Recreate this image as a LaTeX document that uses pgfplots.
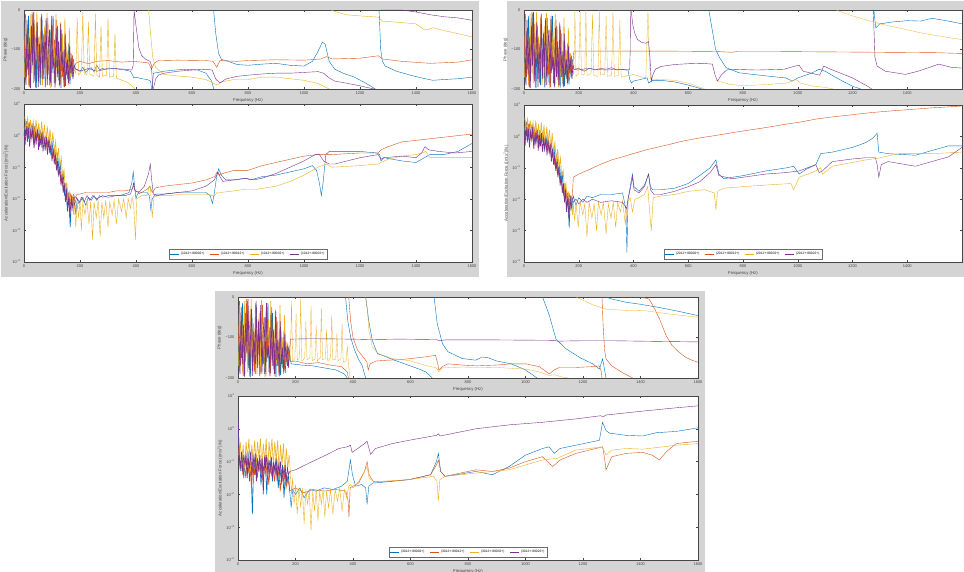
\documentclass[border=0pt]{standalone}
\usepackage{fontspec}
\setmainfont{Liberation Sans}
\usepackage{pgfplots}
\usepackage{pgfplotstable}
\pgfplotsset{compat=1.18}
\definecolor{mb}{rgb}{0,0.447,0.741}
\definecolor{mo}{rgb}{0.85,0.325,0.098}
\definecolor{my}{rgb}{0.929,0.694,0.125}
\definecolor{mp}{rgb}{0.494,0.184,0.556}
\definecolor{figbg}{RGB}{212,212,212}
\definecolor{axc}{RGB}{70,70,70}
\newcommand\lgimg[1]{\addlegendimage{legend image code/.code={\draw[draw=#1, line width=0.5pt] (0pt,0pt) -- (9pt,0pt);}}}

% ---------- phase noise (0-180 Hz), shared by the three figures ----------
\pgfplotstableread{
x y
0 -30
4 -185
8 -60
12 -150
16 -15
20 -195
24 -90
28 -135
32 -10
36 -175
40 -70
44 -198
48 -40
52 -160
56 -105
60 -190
64 -25
68 -150
72 -80
76 -196
80 -35
84 -170
88 -115
92 -190
96 -50
100 -160
104 -15
108 -185
112 -95
116 -145
120 -40
124 -178
128 -120
132 -197
136 -60
140 -165
144 -100
148 -192
152 -130
156 -175
160 -85
164 -188
168 -140
172 -170
176 -125
}\PNb
\pgfplotstableread{
x y
1 -120
5 -10
9 -170
13 -45
17 -190
21 -80
25 -140
29 -5
33 -160
37 -100
41 -196
45 -30
49 -150
53 -70
57 -185
61 -20
65 -130
69 -175
73 -55
77 -190
81 -90
85 -20
89 -165
93 -110
97 -195
101 -40
105 -140
109 -75
113 -188
117 -25
121 -160
125 -95
129 -190
133 -50
137 -170
141 -120
145 -196
149 -80
153 -150
157 -110
161 -180
165 -130
169 -160
173 -115
177 -150
}\PNo
\pgfplotstableread{
x y
2 -170
6 -20
10 -140
14 -60
18 -195
22 -10
26 -160
30 -90
34 -185
38 -35
42 -130
46 -5
50 -175
54 -65
58 -150
62 -15
66 -190
70 -100
74 -40
78 -170
82 -8
86 -145
90 -75
94 -198
98 -25
102 -120
106 -55
110 -180
114 -10
118 -155
122 -85
126 -195
130 -30
134 -165
138 -60
142 -185
146 -20
150 -150
154 -100
158 -190
162 -45
166 -170
170 -110
174 -160
178 -150
}\PNy
\pgfplotstableread{
x y
3 -90
7 -190
11 -25
15 -165
19 -70
23 -198
27 -40
31 -140
35 -5
39 -180
43 -110
47 -30
51 -195
55 -85
59 -160
63 -10
67 -175
71 -60
75 -145
79 -20
83 -190
87 -95
91 -50
95 -185
99 -15
103 -150
107 -120
111 -196
115 -45
119 -170
123 -80
127 -190
131 -35
135 -155
139 -105
143 -194
147 -60
151 -165
155 -125
159 -185
163 -90
167 -160
171 -120
175 -175
179 -140
}\PNp

% ---------- magnitude noise, figures 1 and 2 ----------
\pgfplotstableread{
x y
0 2.0
5 1.12
10 2.82
15 0.794
20 2.24
25 1.0
30 2.0
35 0.501
40 1.58
45 0.794
50 1.41
55 0.447
60 1.26
65 0.631
70 1.12
75 0.398
80 1.0
85 0.501
90 0.794
95 0.282
100 0.631
105 0.251
110 0.398
115 0.126
120 0.251
125 0.0794
130 0.126
135 0.0316
140 0.0631
145 0.0126
150 0.0316
155 0.00398
160 0.0158
165 0.00126
170 0.0126
175 0.00501
}\MAb
\pgfplotstableread{
x y
2 1.58
7 2.82
12 1.0
17 2.51
22 0.794
27 2.0
32 0.891
37 1.78
42 0.631
47 1.58
52 0.794
57 1.41
62 0.501
67 1.26
72 0.631
77 0.891
82 0.398
87 0.794
92 0.316
97 0.501
102 0.2
107 0.316
112 0.126
117 0.158
122 0.0631
127 0.0794
132 0.0316
137 0.0398
142 0.0178
147 0.0251
152 0.01
157 0.0158
162 0.00794
167 0.0141
172 0.01
177 0.0141
}\MAo
\pgfplotstableread{
x y
3 3.98
8 1.58
13 3.55
18 1.0
23 3.16
28 1.26
33 2.82
38 0.794
43 3.16
48 1.0
53 2.51
58 0.631
63 2.82
68 0.794
73 2.24
78 0.501
83 2.0
88 0.631
93 1.58
98 0.398
103 1.26
108 0.316
113 0.631
118 0.158
123 0.398
128 0.1
133 0.2
138 0.0501
143 0.0794
148 0.02
153 0.0316
158 0.01
163 0.0158
168 0.00501
173 0.01
178 0.00316
}\MAy
\pgfplotstableread{
x y
0 1.26
4 0.501
8 2.0
12 0.631
16 1.78
20 0.447
24 1.41
28 0.794
32 2.0
36 0.398
40 1.26
44 0.631
48 1.58
52 0.355
56 1.12
60 0.501
64 1.26
68 0.316
72 0.794
76 0.398
80 0.891
84 0.251
88 0.631
92 0.316
96 0.501
100 0.158
104 0.398
108 0.126
112 0.251
116 0.0794
120 0.158
124 0.0501
128 0.1
132 0.0316
136 0.0501
140 0.0158
144 0.0316
148 0.00794
152 0.02
156 0.00398
160 0.0126
164 0.00251
168 0.01
172 0.00501
176 0.0112
}\MAp

% ---------- magnitude noise, figure 3 ----------
\pgfplotstableread{
x y
0 2.0
5 0.126
10 0.0501
15 0.158
20 0.0316
25 0.126
30 0.0631
35 0.2
40 0.0251
45 0.1
50 0.00251
55 0.126
60 0.0398
65 0.158
70 0.0501
75 0.126
80 0.02
85 0.1
90 0.0501
95 0.158
100 0.01
105 0.1
110 0.0398
115 0.126
120 0.0251
125 0.0794
130 0.0501
135 0.126
140 0.0158
145 0.0631
150 0.0316
155 0.0794
160 0.00794
165 0.0501
170 0.02
175 0.0398
180 0.0126
}\MCb
\pgfplotstableread{
x y
2 0.251
7 0.0631
12 0.126
17 0.0398
22 0.1
27 0.0316
32 0.126
37 0.0501
42 0.0794
47 0.0158
52 0.1
57 0.0398
62 0.126
67 0.0316
72 0.0794
77 0.0501
82 0.1
87 0.0251
92 0.0794
97 0.0398
102 0.1
107 0.02
112 0.0631
117 0.0398
122 0.0794
127 0.0251
132 0.0631
137 0.0316
142 0.0501
147 0.0126
152 0.0501
157 0.0251
162 0.0398
167 0.0158
172 0.0316
177 0.02
}\MCo
\pgfplotstableread{
x y
3 0.158
8 0.398
13 0.0794
18 0.316
23 0.0631
28 0.398
33 0.126
38 0.501
43 0.0501
48 0.316
53 0.1
58 0.447
63 0.0794
68 0.398
73 0.126
78 0.501
83 0.0631
88 0.355
93 0.1
98 0.501
103 0.0398
108 0.398
113 0.126
118 0.501
123 0.0794
128 0.398
133 0.1
138 0.447
143 0.0501
148 0.316
153 0.0794
158 0.355
163 0.0398
168 0.251
173 0.0631
178 0.158
}\MCy
\pgfplotstableread{
x y
0 3.16
4 0.158
8 0.0631
12 0.2
16 0.0501
20 0.158
24 0.0794
28 0.178
32 0.0316
36 0.126
40 0.0631
44 0.2
48 0.0398
52 0.141
56 0.0794
60 0.178
64 0.0251
68 0.126
72 0.0631
76 0.158
80 0.0447
84 0.126
88 0.01
92 0.141
96 0.0631
100 0.158
104 0.0398
108 0.112
112 0.0562
116 0.141
120 0.0316
124 0.1
128 0.0501
132 0.126
136 0.0251
140 0.0794
144 0.0447
148 0.1
152 0.02
156 0.0708
160 0.0355
164 0.0794
168 0.0251
172 0.0631
176 0.0398
}\MCp

\pgfplotsset{
  nz/.style={forget plot, line width=0.65pt},
  sm/.style={forget plot},
  baseax/.style={
    scale only axis, xmin=0, xmax=1600, xtick={0,200,...,1600},
    tick align=inside, major tick length=2pt,
    axis line style={axc, line width=0.4pt},
    tick style={axc, line width=0.3pt},
    ticklabel style={font=\fontsize{4}{4.5}\selectfont, text=axc},
    label style={font=\fontsize{4.3}{5}\selectfont, text=axc},
    xticklabel style={yshift=1pt},
    xlabel={Frequency (Hz)}, xlabel style={yshift=3pt},
    ylabel style={yshift=-3pt},
    /pgf/number format/assume math mode=true,
    /pgf/number format/1000 sep={},
    axis background/.style={fill=white},
    unbounded coords=jump, clip=true,
    every axis plot/.append style={line width=0.4pt},
  },
  phax/.style={baseax, ymin=-200, ymax=0, ytick={-200,-100,0},
    yticklabels={−200,−100,0}, ylabel={Phase (deg)}},
  mgax/.style={baseax, ymin=1e-4, ymax=10,
    ytick={1e-4,1e-3,1e-2,1e-1,1,10}, yminorticks=false,
    yticklabels={10\textsuperscript{−4},10\textsuperscript{−3},10\textsuperscript{−2},10\textsuperscript{−1},10\textsuperscript{0},10\textsuperscript{1}},
    ylabel={Acceleration/Excitation Force ((m/s\textsuperscript{2})/N)},
    legend columns=4,
    legend style={at={(0.5,0)}, anchor=south, yshift=2pt,
      font=\fontsize{3.3}{4}\selectfont, draw=axc!80,
      fill=white, inner sep=0.8pt, row sep=0pt,
      /tikz/every even column/.append style={column sep=3pt}},
  },
}

\begin{document}
\begin{tikzpicture}[x=1pt,y=1pt]
\fill[white] (0,0) rectangle (964,-572);
\fill[figbg] (1,-1) rectangle (479,-277);
\fill[figbg] (507,-1) rectangle (964,-277);
\fill[figbg] (215,-291) rectangle (705,-572);

% ================= FIGURE 1 : phase =================
\begin{axis}[phax, at={(24pt,-10pt)}, anchor=north west, width=448pt, height=79pt]
\addplot[draw=mb, nz] table {\PNb};
\addplot[draw=mb] coordinates {(176,-125)(182,-150)(190,-150)(200,-155)(210,-145)(220,-158)(230,-150)(240,-146)(250,-156)(260,-140)(270,-152)(280,-148)(290,-150)(300,-147)(320,-148)(340,-150)(360,-152)(380,-155)(388,-165)(392,-172)(400,-170)(420,-174)(440,-176)(452,-180)(456,-200)(457,nan)(458,-200)(462,-160)(480,-158)(500,-155)(540,-152)(580,-150)(620,-152)(650,-160)(670,-180)(678,-200)(679,nan)(677,0)(685,-60)(695,-110)(705,-125)(730,-130)(760,-138)(800,-140)(850,-137)(900,-135)(950,-140)(1000,-142)(1030,-130)(1050,-105)(1065,-82)(1075,-85)(1090,-130)(1110,-150)(1140,-160)(1180,-170)(1220,-185)(1255,-200)(1260,nan)(1268,0)(1274,-100)(1280,-130)(1290,-142)(1330,-155)(1380,-165)(1420,-172)(1460,-178)(1500,-176)(1550,-174)(1600,-170)};
\addplot[draw=mo, nz] table {\PNo};
\addplot[draw=mo] coordinates {(177,-150)(185,-135)(200,-130)(230,-136)(260,-130)(300,-128)(350,-132)(390,-130)(420,-132)(445,-134)(455,-150)(465,-135)(480,-128)(550,-127)(650,-128)(675,-130)(688,-145)(700,-128)(760,-130)(800,-128)(900,-126)(1000,-127)(1060,-124)(1080,-118)(1100,-124)(1200,-122)(1265,-116)(1280,-124)(1350,-130)(1450,-135)(1550,-132)(1600,-126)};
\addplot[draw=my, nz] table {\PNy};
\addplot[draw=my] coordinates {(178,-150)(185,-160)(190,-20)(195,-165)(205,-155)(210,-5)(215,-160)(225,-165)(230,-30)(235,-162)(250,-168)(255,-10)(260,-165)(270,-170)(275,-40)(280,-168)(295,-165)(300,-20)(305,-170)(320,-168)(325,-60)(330,-172)(350,-178)(370,-183)(385,-192)(395,-200)(400,nan)(445,0)(452,-60)(460,-120)(470,-145)(485,-155)(500,-163)(550,-167)(600,-170)(650,-176)(675,-185)(690,-190)(705,-182)(750,-176)(800,-176)(850,-170)(900,-170)(950,-174)(1000,-178)(1050,-186)(1090,-200)(1092,nan)(1095,0)(1150,-12)(1200,-15)(1265,-18)(1280,-28)(1350,-32)(1400,-35)(1425,-48)(1440,-50)(1460,-45)(1500,-52)(1550,-60)(1600,-68)};
\addplot[draw=mp, nz] table {\PNp};
\addplot[draw=mp] coordinates {(179,-140)(185,-150)(200,-155)(230,-148)(260,-155)(290,-150)(320,-148)(360,-150)(385,-152)(390,-140)(393,0)(394,nan)(393,0)(400,-40)(410,-95)(420,-115)(435,-125)(450,-130)(455,-140)(460,-200)(461,nan)(462,-200)(470,-175)(480,-165)(500,-160)(550,-155)(600,-152)(650,-150)(672,-152)(685,-175)(700,-185)(720,-175)(760,-168)(800,-165)(850,-162)(900,-160)(950,-160)(1000,-158)(1050,-156)(1070,-160)(1090,-172)(1110,-180)(1150,-185)(1200,-192)(1250,-200)(1260,nan)(1275,0)(1350,0)(1400,-5)(1450,-12)(1500,-17)(1550,-20)(1600,-26)};
\end{axis}

% ================= FIGURE 1 : magnitude =================
\begin{axis}[ymode=log, mgax, at={(24pt,-104pt)}, anchor=north west, width=448pt, height=158pt, legend style={yshift=1pt}]
\addplot[draw=mb, nz] table {\MAb};
\addplot[draw=mb, sm] coordinates {(175,5.01e-3)(180,1.12e-2)(185,3.16e-3)(190,1e-2)(200,7.94e-3)(210,1.12e-2)(220,6.31e-3)(230,1.12e-2)(240,8.91e-3)(250,1.26e-2)(260,8.91e-3)(270,1.26e-2)(280,1.12e-2)(300,1.26e-2)(320,1.26e-2)(340,1.26e-2)(360,1.41e-2)(375,1.58e-2)(385,3.16e-2)(390,7.08e-2)(395,2.51e-2)(400,1e-2)(405,1.41e-2)(420,1.58e-2)(440,1.58e-2)(448,1.26e-2)(453,4.47e-3)(458,1e-2)(470,1.41e-2)(500,1.41e-2)(550,1.58e-2)(600,1.58e-2)(650,1.58e-2)(665,1.26e-2)(673,7.08e-3)(680,1.58e-2)(688,5.01e-2)(695,8.91e-2)(705,5.62e-2)(720,3.98e-2)(760,3.98e-2)(790,4.47e-2)(810,3.98e-2)(850,5.01e-2)(900,5.62e-2)(950,7.08e-2)(1000,8.91e-2)(1030,0.112)(1045,7.94e-2)(1055,3.16e-2)(1062,1.26e-2)(1068,3.16e-2)(1078,0.251)(1090,0.316)(1150,0.316)(1200,0.316)(1260,0.282)(1270,0.251)(1275,0.158)(1285,0.2)(1350,0.158)(1400,0.141)(1430,0.2)(1450,0.251)(1500,0.251)(1550,0.316)(1600,0.562)};
\addplot[draw=mo, nz] table {\MAo};
\addplot[draw=mo, sm] coordinates {(177,1.41e-2)(180,1e-2)(190,1.41e-2)(200,1.41e-2)(220,1.58e-2)(250,1.58e-2)(280,1.58e-2)(300,1.58e-2)(330,1.78e-2)(360,1.78e-2)(385,2e-2)(392,2.51e-2)(398,1.78e-2)(420,1.58e-2)(440,2e-2)(450,2.51e-2)(458,1.58e-2)(470,2.24e-2)(500,2.51e-2)(550,2.82e-2)(600,3.16e-2)(650,3.98e-2)(680,5.01e-2)(690,7.08e-2)(697,5.62e-2)(710,6.31e-2)(750,7.94e-2)(800,7.94e-2)(850,0.112)(900,0.141)(950,0.178)(1000,0.224)(1050,0.251)(1100,0.251)(1200,0.282)(1265,0.282)(1275,0.355)(1300,0.447)(1350,0.631)(1400,0.708)(1450,0.794)(1500,0.891)(1550,1.0)(1600,1.12)};
\addplot[draw=my, nz] table {\MAy};
\addplot[draw=my, sm] coordinates {(178,3.16e-3)(180,1e-2)(185,1.26e-3)(190,7.94e-3)(195,2.51e-3)(200,8.91e-3)(205,1e-3)(210,7.94e-3)(218,3.16e-3)(225,8.91e-3)(232,1.58e-3)(238,7.94e-3)(245,5.01e-4)(250,7.94e-3)(258,2.51e-3)(265,8.91e-3)(272,6.31e-4)(278,7.94e-3)(285,2.51e-3)(292,8.91e-3)(300,1.26e-3)(306,7.94e-3)(315,3.16e-3)(322,8.91e-3)(330,1.58e-3)(338,1e-2)(348,3.98e-3)(356,1e-2)(365,2.51e-3)(372,1e-2)(380,5.01e-3)(386,1.12e-2)(392,6.31e-3)(398,5.01e-4)(403,1e-2)(420,1.26e-2)(440,1.26e-2)(447,2.51e-2)(452,2e-2)(458,2.51e-3)(464,1.12e-2)(480,1.26e-2)(520,1.26e-2)(560,1.41e-2)(600,1.41e-2)(650,1.41e-2)(680,1.26e-2)(690,1.58e-2)(700,1.58e-2)(750,1.78e-2)(790,2e-2)(830,2e-2)(900,2.51e-2)(950,3.55e-2)(1000,5.62e-2)(1050,0.1)(1080,0.126)(1100,0.1)(1200,0.112)(1265,0.126)(1275,0.141)(1300,0.178)(1350,0.224)(1400,0.251)(1420,0.282)(1435,0.316)(1450,0.2)(1500,0.2)(1550,0.2)(1600,0.2)};
\addplot[draw=mp, nz] table {\MAp};
\addplot[draw=mp, sm] coordinates {(176,1.12e-2)(180,6.31e-3)(188,1.12e-2)(196,7.08e-3)(205,1.12e-2)(215,7.94e-3)(225,1.26e-2)(235,8.91e-3)(245,1.26e-2)(260,1e-2)(280,1.26e-2)(300,1.12e-2)(330,1.26e-2)(360,1.26e-2)(380,1.41e-2)(388,2.24e-2)(391,3.16e-2)(396,1.78e-2)(410,1.58e-2)(430,2.51e-2)(445,6.31e-2)(451,0.126)(456,3.98e-2)(462,1.41e-2)(475,1.26e-2)(500,1.41e-2)(550,1.58e-2)(600,1.78e-2)(650,2.51e-2)(680,3.98e-2)(693,7.08e-2)(700,5.01e-2)(710,3.55e-2)(750,3.98e-2)(790,4.47e-2)(820,3.98e-2)(850,4.47e-2)(900,6.31e-2)(950,0.1)(1000,0.158)(1040,0.251)(1055,0.251)(1070,0.158)(1090,0.126)(1110,0.126)(1200,0.2)(1265,0.251)(1275,0.178)(1285,0.2)(1350,0.224)(1400,0.2)(1420,0.282)(1432,0.447)(1445,0.355)(1480,0.316)(1540,0.282)(1600,0.316)};
\lgimg{mb}\addlegendentry{(1012+:80002+)}
\lgimg{mo}\addlegendentry{(1012+:80012+)}
\lgimg{my}\addlegendentry{(1012+:80032+)}
\lgimg{mp}\addlegendentry{(1012+:80022+)}
\end{axis}

% ================= FIGURE 2 : phase =================
\begin{axis}[phax, at={(524pt,-10pt)}, anchor=north west, width=438pt, height=79pt,
  xtick={0,200,...,1400}, extra x ticks={1600}, extra x tick labels={}]
\addplot[draw=mb, nz] table {\PNb};
\addplot[draw=mb] coordinates {(176,-125)(182,-150)(200,-152)(230,-148)(260,-150)(300,-152)(340,-150)(380,-152)(386,-175)(392,-185)(400,-180)(450,-172)(455,-185)(470,-178)(500,-178)(550,-182)(600,-190)(640,-198)(650,-200)(660,nan)(675,0)(690,-60)(700,-100)(714,-120)(738,-146)(786,-159)(835,-163)(900,-168)(956,-172)(980,-180)(1000,-172)(1050,-160)(1078,-150)(1100,-155)(1150,-175)(1200,-193)(1230,-200)(1240,nan)(1278,0)(1285,-45)(1300,-35)(1350,-30)(1400,-27)(1450,-28)(1490,-21)(1550,-28)(1600,-35)};
\addplot[draw=mo, nz] table {\PNo};
\addplot[draw=mo] coordinates {(177,-150)(182,-104)(300,-104)(500,-104)(700,-105)(760,-107)(780,-105)(900,-105)(1100,-106)(1300,-107)(1500,-108)(1600,-110)};
\addplot[draw=my, nz] table {\PNy};
\addplot[draw=my, line width=0.3pt] coordinates {(178,-150)(182,-165)(186,0)(190,-168)(200,-160)(205,-5)(210,-165)(222,-162)(226,0)(230,-166)(245,-160)(250,-10)(255,-165)(270,-168)(275,0)(280,-165)(295,-163)(300,-15)(305,-168)(320,-165)(325,0)(330,-168)(345,-166)(350,-25)(355,-170)(370,-168)(380,-165)(390,-165)(400,-163)(430,-170)(445,-172)(450,-60)(453,0)(456,-100)(462,-175)(500,-176)(550,-178)(600,-185)(640,-195)(660,-200)(665,nan)(700,-178)(750,-188)(800,-192)(850,-190)(900,-188)(960,-185)(993,-176)(1010,-185)(1050,-192)(1100,-196)(1130,-200)(1135,nan)(1140,0)(1200,-15)(1300,-35)(1400,-50)(1450,-58)(1500,-64)(1600,-75)};
\addplot[draw=mp, nz] table {\PNp};
\addplot[draw=mp] coordinates {(179,-140)(182,-150)(200,-148)(220,-155)(240,-147)(260,-152)(280,-148)(300,-150)(320,-146)(340,-152)(360,-150)(380,-152)(386,-150)(388,-100)(389,0)(390,nan)(391,0)(398,-40)(405,-60)(415,-75)(430,-82)(445,-84)(455,-80)(460,-120)(465,-180)(470,-165)(480,-150)(500,-143)(550,-138)(600,-136)(650,-135)(688,-137)(698,-165)(707,-180)(720,-165)(740,-152)(760,-150)(850,-152)(950,-150)(990,-142)(1005,-140)(1020,-155)(1080,-165)(1095,-142)(1120,-150)(1200,-172)(1260,-195)(1270,-200)(1272,nan)(1276,0)(1282,-120)(1290,-142)(1320,-155)(1393,-163)(1440,-155)(1515,-137)(1560,-145)(1600,-147)};
\end{axis}

% ================= FIGURE 2 : magnitude =================
\begin{axis}[ymode=log, mgax, at={(524pt,-105pt)}, anchor=north west, width=438pt, height=157pt,
  xtick={0,200,...,1400}, extra x ticks={1600}, extra x tick labels={}, legend style={yshift=1pt}]
\addplot[draw=mb, nz] table {\MAb};
\addplot[draw=mb, sm] coordinates {(175,5.01e-3)(180,1.26e-2)(190,6.31e-3)(200,1.12e-2)(215,7.94e-3)(230,1.26e-2)(250,1.12e-2)(280,1.41e-2)(320,1.41e-2)(360,1.58e-2)(372,5.01e-3)(376,2e-4)(380,1e-2)(388,2.51e-2)(396,6.31e-2)(402,2.51e-2)(420,1.78e-2)(440,2.82e-2)(455,6.31e-2)(462,2.51e-2)(470,2e-2)(500,2e-2)(550,2.24e-2)(600,3.16e-2)(641,5.62e-2)(680,0.1)(701,0.178)(712,6.31e-2)(730,4.47e-2)(762,5.01e-2)(800,5.62e-2)(883,7.94e-2)(960,0.1)(985,0.112)(1005,6.31e-2)(1030,8.91e-2)(1066,0.126)(1084,0.282)(1126,0.316)(1200,0.447)(1248,0.631)(1275,0.891)(1290,1.26)(1296,0.316)(1330,0.282)(1430,0.251)(1490,0.355)(1551,0.501)(1600,0.501)};
\addplot[draw=mo, nz] table {\MAo};
\addplot[draw=mo, sm] coordinates {(177,1.41e-2)(180,5.01e-2)(200,6.31e-2)(240,8.91e-2)(277,0.126)(320,0.178)(360,0.224)(398,0.282)(450,0.38)(519,0.525)(580,0.708)(641,0.891)(700,1.07)(762,1.32)(820,1.58)(883,1.91)(950,2.4)(1005,2.82)(1066,3.55)(1126,4.17)(1190,4.79)(1248,5.5)(1310,6.17)(1369,6.76)(1430,7.41)(1490,8.13)(1550,8.71)(1600,9.33)};
\addplot[draw=my, nz] table {\MAy};
\addplot[draw=my, sm] coordinates {(178,3.16e-3)(180,7.94e-3)(185,2e-3)(190,7.94e-3)(198,1.26e-3)(205,7.94e-3)(215,3.16e-3)(222,7.08e-3)(230,6.31e-4)(238,7.94e-3)(248,2.51e-3)(256,7.08e-3)(265,1e-3)(272,7.94e-3)(282,3.16e-3)(290,7.94e-3)(300,7.94e-4)(308,7.08e-3)(318,2.51e-3)(326,7.94e-3)(335,1.26e-3)(342,7.94e-3)(352,3.98e-3)(360,8.91e-3)(370,1.58e-3)(378,7.94e-3)(388,1.12e-2)(396,3.98e-3)(405,1e-2)(420,1.12e-2)(440,1.41e-2)(452,2.51e-2)(458,5.01e-3)(465,1e-3)(472,1.12e-2)(500,1.26e-2)(550,1.41e-2)(600,1.78e-2)(660,2e-2)(695,1.58e-2)(701,4.47e-3)(707,1.78e-2)(730,2.24e-2)(800,2.51e-2)(883,2.82e-2)(975,3.16e-2)(985,2e-2)(1005,5.01e-2)(1066,7.94e-2)(1084,0.1)(1090,6.31e-2)(1126,0.112)(1248,0.178)(1290,0.2)(1369,0.282)(1490,0.282)(1600,0.316)};
\addplot[draw=mp, nz] table {\MAp};
\addplot[draw=mp, sm] coordinates {(176,1.12e-2)(180,7.94e-3)(190,1e-2)(200,7.08e-3)(215,1e-2)(230,7.94e-3)(250,1e-2)(280,7.94e-3)(320,8.91e-3)(360,7.94e-3)(375,5.01e-3)(380,1e-2)(390,2.51e-2)(396,5.01e-2)(402,2e-2)(420,1.58e-2)(440,2.51e-2)(455,6.31e-2)(462,2e-2)(475,1.41e-2)(500,1.41e-2)(550,1.78e-2)(600,2.51e-2)(641,3.55e-2)(680,7.08e-2)(701,0.126)(712,5.62e-2)(762,4.47e-2)(800,5.01e-2)(883,6.31e-2)(960,7.08e-2)(1005,7.94e-2)(1066,0.126)(1078,7.08e-2)(1090,7.94e-2)(1126,0.158)(1200,0.191)(1248,0.209)(1284,0.209)(1290,0.126)(1296,5.01e-2)(1305,0.126)(1330,0.158)(1430,0.112)(1490,0.158)(1551,0.224)(1600,0.447)};
\lgimg{mb}\addlegendentry{(2012+:80002+)}
\lgimg{mo}\addlegendentry{(2012+:80012+)}
\lgimg{my}\addlegendentry{(2012+:80032+)}
\lgimg{mp}\addlegendentry{(2012+:80022+)}
\end{axis}

% ================= FIGURE 3 : phase =================
\begin{axis}[phax, at={(238pt,-297pt)}, anchor=north west, width=460pt, height=81pt]
\addplot[draw=mb, nz] table {\PNb};
\addplot[draw=mb] coordinates {(176,-125)(185,-165)(220,-168)(260,-170)(300,-175)(340,-180)(370,-190)(380,-200)(381,nan)(374,0)(382,-60)(392,-100)(405,-130)(420,-155)(432,-169)(438,-185)(444,-200)(445,nan)(444,0)(455,-60)(467,-107)(485,-140)(502,-144)(540,-155)(595,-169)(630,-178)(653,-185)(676,-200)(677,nan)(682,0)(693,-66)(711,-115)(730,-135)(780,-152)(827,-156)(850,-148)(870,-150)(900,-158)(950,-165)(1000,-180)(1040,-200)(1041,nan)(1059,0)(1070,-20)(1083,-46)(1106,-104)(1141,-128)(1190,-150)(1234,-165)(1257,-178)(1268,-153)(1275,-180)(1280,-200)(1281,nan)(1280,0)(1300,-5)(1350,-13)(1400,-18)(1466,-26)(1530,-35)(1600,-46)};
\addplot[draw=mo, nz] table {\PNo};
\addplot[draw=mo] coordinates {(177,-150)(182,-160)(200,-158)(240,-165)(280,-162)(320,-168)(360,-172)(380,-185)(384,-200)(385,nan)(385,0)(392,-60)(400,-100)(415,-130)(435,-148)(448,-160)(453,-180)(460,-165)(480,-158)(520,-156)(560,-155)(600,-152)(650,-148)(687,-144)(695,-165)(699,-181)(710,-172)(730,-165)(780,-168)(830,-170)(900,-168)(950,-165)(1001,-165)(1048,-172)(1083,-190)(1100,-180)(1117,-174)(1176,-174)(1230,-172)(1257,-170)(1264,-185)(1266,-200)(1267,nan)(1266,0)(1270,-70)(1275,-130)(1280,-153)(1300,-170)(1340,-188)(1373,-200)(1374,nan)(1400,0)(1430,-5)(1450,-30)(1466,-54)(1489,-95)(1510,-120)(1535,-137)(1560,-150)(1582,-157)(1600,-161)};
\addplot[draw=my, nz] table {\PNy};
\addplot[draw=my, line width=0.3pt] coordinates {(178,-150)(182,-155)(186,-10)(190,-158)(198,-152)(202,-40)(206,-156)(214,-150)(218,-5)(222,-158)(232,-152)(236,-60)(240,-155)(250,-150)(254,-20)(258,-157)(268,-153)(272,-70)(276,-158)(286,-150)(290,-30)(294,-155)(304,-152)(308,-80)(312,-158)(322,-150)(326,-45)(330,-156)(340,-153)(344,-90)(348,-158)(358,-152)(362,-65)(366,-160)(376,-158)(380,-120)(384,-165)(390,-200)(391,nan)(444,0)(450,-30)(455,-82)(467,-123)(490,-140)(537,-152)(595,-157)(653,-169)(690,-175)(699,-185)(710,-175)(780,-173)(900,-174)(1001,-178)(1048,-185)(1083,-194)(1100,-192)(1130,-198)(1150,-200)(1160,nan)(1176,0)(1230,-18)(1280,-30)(1350,-33)(1419,-34)(1500,-42)(1600,-50)};
\addplot[draw=mp, nz] table {\PNp};
\addplot[draw=mp] coordinates {(179,-140)(182,-104)(250,-103)(400,-104)(460,-105)(560,-104)(690,-105)(700,-108)(720,-106)(900,-106)(1100,-107)(1110,-109)(1200,-108)(1300,-108)(1400,-109)(1500,-110)(1600,-111)};
\end{axis}

% ================= FIGURE 3 : magnitude =================
\begin{axis}[ymode=log, mgax, at={(238pt,-396pt)}, anchor=north west, width=460pt, height=164pt, legend style={yshift=1pt}]
\addplot[draw=mb, nz] table {\MCb};
\addplot[draw=mb, sm] coordinates {(180,1.26e-2)(185,3.98e-3)(190,1.41e-2)(200,1e-2)(215,1.58e-2)(230,7.94e-3)(250,1.41e-2)(270,1.26e-2)(300,1.58e-2)(330,1.41e-2)(360,1.78e-2)(380,2.51e-2)(391,0.112)(398,3.98e-2)(409,1.78e-2)(430,2e-2)(444,1.58e-2)(449,5.01e-3)(455,1.78e-2)(470,2.24e-2)(478,2.24e-2)(595,2.82e-2)(670,3.98e-2)(690,0.1)(697,0.178)(705,5.01e-2)(720,3.55e-2)(760,3.98e-2)(827,5.01e-2)(885,3.98e-2)(943,7.08e-2)(1000,0.158)(1059,0.251)(1082,0.282)(1100,0.178)(1120,0.251)(1175,0.316)(1257,0.447)(1268,1.58)(1280,0.891)(1291,0.741)(1350,0.631)(1408,0.603)(1454,0.759)(1524,0.832)(1600,1.07)};
\addplot[draw=mo, nz] table {\MCo};
\addplot[draw=mo, sm] coordinates {(177,2e-2)(180,1.26e-2)(200,1.58e-2)(230,1.12e-2)(260,1.41e-2)(300,1.26e-2)(340,1.41e-2)(375,1.26e-2)(383,6.31e-3)(386,2e-3)(390,1.58e-2)(420,2.24e-2)(440,5.01e-2)(449,0.1)(456,3.98e-2)(470,2.51e-2)(500,2.4e-2)(595,2.82e-2)(670,3.98e-2)(690,7.94e-2)(697,0.112)(705,5.01e-2)(720,3.55e-2)(827,5.62e-2)(885,5.01e-2)(943,6.31e-2)(1000,0.1)(1059,0.141)(1082,8.91e-2)(1095,7.08e-2)(1120,0.112)(1175,0.178)(1268,0.282)(1275,0.126)(1280,5.62e-2)(1300,0.141)(1350,0.178)(1408,0.191)(1440,0.158)(1466,0.112)(1490,0.2)(1524,0.355)(1600,0.417)};
\addplot[draw=my, nz] table {\MCy};
\addplot[draw=my, sm] coordinates {(178,0.158)(182,5.01e-2)(186,1e-2)(190,3.16e-2)(195,5.01e-3)(200,2e-2)(206,2.51e-3)(212,1.58e-2)(218,3.98e-3)(224,1.58e-2)(230,1.26e-3)(236,1.41e-2)(242,5.01e-3)(248,1.26e-2)(254,7.94e-4)(260,1.26e-2)(266,3.16e-3)(272,1.41e-2)(278,1.58e-3)(284,1.26e-2)(290,5.01e-3)(296,1.41e-2)(302,2e-3)(308,1.26e-2)(315,3.98e-3)(322,1.41e-2)(330,2.51e-3)(338,1.41e-2)(346,6.31e-3)(354,1.58e-2)(362,3.16e-3)(370,1.41e-2)(378,7.94e-3)(385,1.78e-2)(392,2e-2)(400,1.58e-2)(420,2.51e-2)(440,5.01e-2)(449,7.08e-2)(456,3.16e-2)(470,2.51e-2)(500,2.51e-2)(595,2.82e-2)(680,3.55e-2)(692,2.51e-2)(697,6.31e-3)(702,2.82e-2)(720,3.55e-2)(827,4.47e-2)(943,5.62e-2)(1059,0.112)(1110,0.126)(1175,0.224)(1268,0.282)(1280,0.158)(1300,0.224)(1350,0.251)(1408,0.24)(1478,0.282)(1524,0.316)(1600,0.355)};
\addplot[draw=mp, nz] table {\MCp};
\addplot[draw=mp, sm] coordinates {(176,3.98e-2)(180,5.01e-2)(200,5.62e-2)(246,8.91e-2)(304,0.155)(351,0.251)(380,0.282)(391,0.316)(397,0.191)(420,0.263)(440,0.355)(449,0.417)(461,0.166)(478,0.251)(537,0.355)(595,0.447)(690,0.631)(697,0.708)(703,0.603)(827,1.0)(943,1.32)(1059,1.58)(1175,2.0)(1262,2.51)(1270,2.29)(1280,2.63)(1408,3.47)(1524,4.37)(1600,5.01)};
\lgimg{mb}\addlegendentry{(3012+:80002+)}
\lgimg{mo}\addlegendentry{(3012+:80012+)}
\lgimg{my}\addlegendentry{(3012+:80032+)}
\lgimg{mp}\addlegendentry{(3012+:80022+)}
\end{axis}

\pgfresetboundingbox
\path[use as bounding box] (0,0) rectangle (964,-572);
\end{tikzpicture}
\end{document}
